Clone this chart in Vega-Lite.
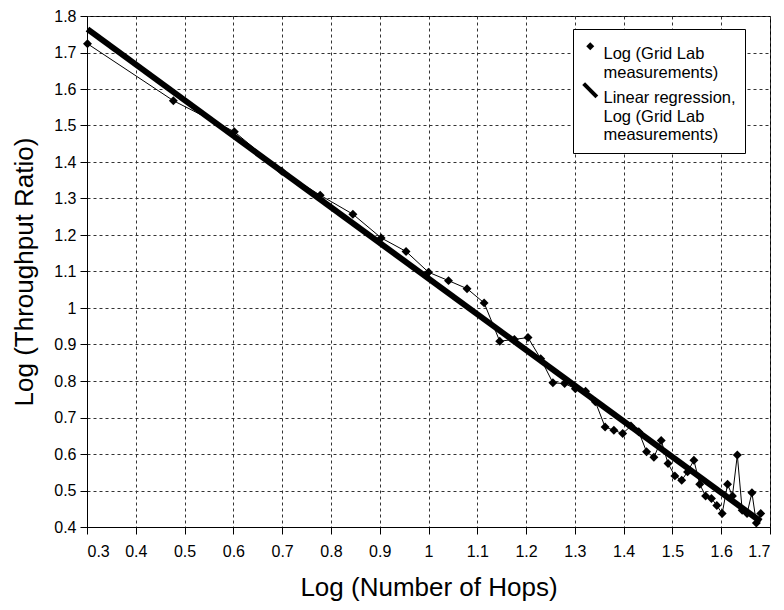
{
  "$schema": "https://vega.github.io/schema/vega-lite/v6.json",
  "autosize": {"type": "none"},
  "width": 683,
  "height": 511,
  "padding": {"left": 87, "top": 16, "right": 14, "bottom": 83},
  "background": "white",
  "config": {
    "font": "Liberation Sans",
    "view": {"stroke": "black", "strokeWidth": 1},
    "axis": {
      "labelFont": "Liberation Sans",
      "titleFont": "Liberation Sans",
      "labelColor": "black",
      "titleColor": "black",
      "titleFontWeight": "normal",
      "titleFontSize": 26,
      "labelFontSize": 16,
      "labelOverlap": false,
      "domainColor": "black",
      "tickColor": "black",
      "tickSize": 7,
      "gridColor": "#333333",
      "gridDash": [3, 3],
      "gridWidth": 1,
      "gridOpacity": 1
    }
  },
  "datasets": {
    "pts": [
      {"x": 0.301, "y": 1.724, "series": "Log (Grid Lab measurements)"},
      {"x": 0.477, "y": 1.568, "series": "Log (Grid Lab measurements)"},
      {"x": 0.602, "y": 1.483, "series": "Log (Grid Lab measurements)"},
      {"x": 0.699, "y": 1.375, "series": "Log (Grid Lab measurements)"},
      {"x": 0.778, "y": 1.309, "series": "Log (Grid Lab measurements)"},
      {"x": 0.845, "y": 1.257, "series": "Log (Grid Lab measurements)"},
      {"x": 0.903, "y": 1.192, "series": "Log (Grid Lab measurements)"},
      {"x": 0.954, "y": 1.155, "series": "Log (Grid Lab measurements)"},
      {"x": 1.0, "y": 1.098, "series": "Log (Grid Lab measurements)"},
      {"x": 1.041, "y": 1.075, "series": "Log (Grid Lab measurements)"},
      {"x": 1.079, "y": 1.053, "series": "Log (Grid Lab measurements)"},
      {"x": 1.114, "y": 1.014, "series": "Log (Grid Lab measurements)"},
      {"x": 1.146, "y": 0.909, "series": "Log (Grid Lab measurements)"},
      {"x": 1.176, "y": 0.914, "series": "Log (Grid Lab measurements)"},
      {"x": 1.204, "y": 0.919, "series": "Log (Grid Lab measurements)"},
      {"x": 1.230, "y": 0.861, "series": "Log (Grid Lab measurements)"},
      {"x": 1.255, "y": 0.795, "series": "Log (Grid Lab measurements)"},
      {"x": 1.279, "y": 0.793, "series": "Log (Grid Lab measurements)"},
      {"x": 1.301, "y": 0.779, "series": "Log (Grid Lab measurements)"},
      {"x": 1.322, "y": 0.772, "series": "Log (Grid Lab measurements)"},
      {"x": 1.342, "y": 0.743, "series": "Log (Grid Lab measurements)"},
      {"x": 1.362, "y": 0.674, "series": "Log (Grid Lab measurements)"},
      {"x": 1.380, "y": 0.665, "series": "Log (Grid Lab measurements)"},
      {"x": 1.398, "y": 0.656, "series": "Log (Grid Lab measurements)"},
      {"x": 1.415, "y": 0.677, "series": "Log (Grid Lab measurements)"},
      {"x": 1.431, "y": 0.661, "series": "Log (Grid Lab measurements)"},
      {"x": 1.447, "y": 0.606, "series": "Log (Grid Lab measurements)"},
      {"x": 1.462, "y": 0.591, "series": "Log (Grid Lab measurements)"},
      {"x": 1.477, "y": 0.637, "series": "Log (Grid Lab measurements)"},
      {"x": 1.491, "y": 0.574, "series": "Log (Grid Lab measurements)"},
      {"x": 1.505, "y": 0.540, "series": "Log (Grid Lab measurements)"},
      {"x": 1.519, "y": 0.528, "series": "Log (Grid Lab measurements)"},
      {"x": 1.531, "y": 0.551, "series": "Log (Grid Lab measurements)"},
      {"x": 1.544, "y": 0.583, "series": "Log (Grid Lab measurements)"},
      {"x": 1.556, "y": 0.517, "series": "Log (Grid Lab measurements)"},
      {"x": 1.568, "y": 0.485, "series": "Log (Grid Lab measurements)"},
      {"x": 1.580, "y": 0.478, "series": "Log (Grid Lab measurements)"},
      {"x": 1.591, "y": 0.459, "series": "Log (Grid Lab measurements)"},
      {"x": 1.602, "y": 0.437, "series": "Log (Grid Lab measurements)"},
      {"x": 1.613, "y": 0.517, "series": "Log (Grid Lab measurements)"},
      {"x": 1.623, "y": 0.485, "series": "Log (Grid Lab measurements)"},
      {"x": 1.633, "y": 0.597, "series": "Log (Grid Lab measurements)"},
      {"x": 1.643, "y": 0.446, "series": "Log (Grid Lab measurements)"},
      {"x": 1.653, "y": 0.437, "series": "Log (Grid Lab measurements)"},
      {"x": 1.663, "y": 0.494, "series": "Log (Grid Lab measurements)"},
      {"x": 1.672, "y": 0.411, "series": "Log (Grid Lab measurements)"},
      {"x": 1.681, "y": 0.437, "series": "Log (Grid Lab measurements)"}
    ],
    "fit": [
      {"x": 0.301, "y": 1.764},
      {"x": 1.681, "y": 0.415}
    ]
  },
  "encoding": {
    "x": {
      "field": "x", "type": "quantitative",
      "scale": {"domain": [0.3, 1.7], "nice": false, "zero": false},
      "axis": {
        "title": "Log (Number of Hops)",
        "values": [0.3, 0.4, 0.5, 0.6, 0.7, 0.8, 0.9, 1, 1.1, 1.2, 1.3, 1.4, 1.5, 1.6, 1.7],
        "labelExpr": "format(datum.value, '.1~f')",
        "labelPadding": 9,
        "titlePadding": 15
      }
    },
    "y": {
      "field": "y", "type": "quantitative",
      "scale": {"domain": [0.4, 1.8], "nice": false, "zero": false},
      "axis": {
        "title": "Log (Throughput Ratio)",
        "values": [0.4, 0.5, 0.6, 0.7, 0.8, 0.9, 1, 1.1, 1.2, 1.3, 1.4, 1.5, 1.6, 1.7, 1.8],
        "labelExpr": "format(datum.value, '.1~f')",
        "labelOverlap": false,
        "labelPadding": 4,
        "titlePadding": 16
      }
    }
  },
  "layer": [
    {
      "data": {"name": "pts"},
      "mark": {"type": "line", "color": "black", "strokeWidth": 1}
    },
    {
      "data": {"name": "fit"},
      "mark": {"type": "line", "color": "black", "strokeWidth": 6, "strokeCap": "butt"}
    },
    {
      "data": {"name": "pts"},
      "mark": {"type": "point", "filled": true, "color": "black", "size": 80, "opacity": 1},
      "encoding": {
        "shape": {
          "field": "series", "type": "nominal",
          "scale": {
            "domain": ["Log (Grid Lab measurements)", "Linear regression, Log (Grid Lab measurements)"],
            "range": ["diamond", "M-2,-1.3L-1.3,-2L2,1.3L1.3,2Z"]
          },
          "legend": {
            "title": null,
            "orient": "none",
            "legendX": 486,
            "legendY": 13,
            "padding": 9,
            "strokeColor": "black",
            "fillColor": "white",
            "labelFont": "Liberation Sans",
            "labelFontSize": 16.5,
            "labelColor": "black",
            "labelBaseline": "top",
            "labelOffset": 5,
            "labelLimit": 300,
            "rowPadding": -4,
            "symbolSize": 64,
            "symbolFillColor": "black",
            "symbolStrokeWidth": 0,
            "symbolOpacity": 1,
            "labelExpr": "datum.value == 'Log (Grid Lab measurements)' ? ['Log (Grid Lab', 'measurements)'] : ['Linear regression,', 'Log (Grid Lab', 'measurements)']",
            "encode": {
              "symbols": {
                "update": {
                  "fill": {"value": "black"},
                  "y": {"value": 9}
                }
              },
              "labels": {
                "update": {"lineHeight": {"value": 18}}
              }
            }
          }
        }
      }
    }
  ]
}
